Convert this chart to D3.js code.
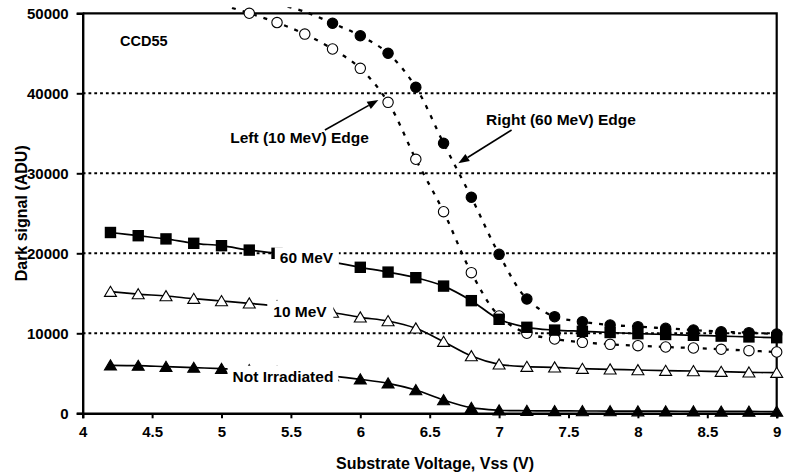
<!DOCTYPE html>
<html>
<head>
<meta charset="utf-8">
<script src="https://cdn.jsdelivr.net/npm/d3@7"></script>
<style>
  body { margin: 0; background: #fff; }
  svg { display: block; }
  text { font-family: "Liberation Sans", Arial, Helvetica, sans-serif; font-weight: bold; fill: #000; }
</style>
</head>
<body>
<svg id="chart" width="786" height="473"></svg>
<script>
// Substrate voltage settings (V)
const voltages = [4.2, 4.4, 4.6, 4.8, 5.0, 5.2, 5.4, 5.6, 5.8, 6.0, 6.2, 6.4, 6.6,
                  6.8, 7.0, 7.2, 7.4, 7.6, 7.8, 8.0, 8.2, 8.4, 8.6, 8.8, 9.0];

// Dark signal (ADU) for each region of the device
const notIrradiated = [6000, 5960, 5830, 5710, 5580, 5400, 5200, 4950, 4650, 4250, 3750, 2910, 1660,
                       700, 380, 320, 300, 290, 280, 270, 260, 250, 240, 230, 220];
const tenMeV = [15200, 14900, 14660, 14330, 14040, 13750, 13400, 13100, 12600, 12000, 11540, 10625, 8950,
                7160, 6120, 5830, 5750, 5580, 5500, 5410, 5330, 5290, 5200, 5120, 5080];
const sixtyMeV = [22600, 22200, 21800, 21250, 20950, 20400, 20000, 19500, 18900, 18250, 17650, 16950, 15900,
                  14080, 11750, 10750, 10400, 10250, 10100, 9950, 9850, 9750, 9650, 9550, 9450];

// Edge pixels at the boundaries of the irradiated regions
const leftEdgeVoltages = [5.0, 5.2, 5.4, 5.6, 5.8, 6.0, 6.2, 6.4, 6.6, 6.8, 7.0, 7.2, 7.4,
                          7.6, 7.8, 8.0, 8.2, 8.4, 8.6, 8.8, 9.0];
const leftEdge = [51100, 50000, 48840, 47400, 45540, 43120, 38870, 31750, 25200, 17580, 12160, 10000, 9290,
                  8870, 8620, 8450, 8290, 8160, 8000, 7830, 7660];
const rightEdgeVoltages = [5.4, 5.6, 5.8, 6.0, 6.2, 6.4, 6.6, 6.8, 7.0, 7.2, 7.4,
                           7.6, 7.8, 8.0, 8.2, 8.4, 8.6, 8.8, 9.0];
const rightEdge = [51200, 50200, 48750, 47200, 45000, 40750, 33750, 27000, 19870, 14290, 12080,
                   11450, 11040, 10830, 10620, 10410, 10200, 10080, 9910];

// Axis ticks
const xTicks = [4, 4.5, 5, 5.5, 6, 6.5, 7, 7.5, 8, 8.5, 9];
const xTickLabels = ["4", "4.5", "5", "5.5", "6", "6.5", "7", "7.5", "8", "8.5", "9"];
const yTicks = [0, 10000, 20000, 30000, 40000, 50000];
const yTickLabels = ["0", "10000", "20000", "30000", "40000", "50000"];

const svg = d3.select("#chart");
const W = 786, H = 473;
const margin = { left: 82.7, right: 9.3, top: 13.3, bottom: 59.7 };
const x0 = margin.left, x1 = W - margin.right, y0 = H - margin.bottom, y1 = margin.top;

const x = d3.scaleLinear().domain([4, 9]).range([x0, x1]);
const y = d3.scaleLinear().domain([0, 50000]).range([y0, y1]);

// Plot area clip (curves may run slightly above the top frame)
svg.append("defs").append("clipPath").attr("id", "plotClip")
  .append("rect").attr("x", x0).attr("y", y1 - 6).attr("width", x1 - x0).attr("height", y0 - y1 + 6);

// Horizontal dotted gridlines
svg.append("g").selectAll("line")
  .data(yTicks.filter(v => v > 0 && v < 50000))
  .join("line")
  .attr("x1", x0).attr("x2", x1)
  .attr("y1", d => y(d)).attr("y2", d => y(d))
  .attr("stroke", "#000").attr("stroke-width", 2).attr("stroke-dasharray", "2.8,3");

// Frame: top and right
svg.append("path")
  .attr("d", `M${x0},${y1}H${x1}V${y0}`)
  .attr("fill", "none").attr("stroke", "#000").attr("stroke-width", 2.2);

// Axes
const xAxis = d3.axisBottom(x).tickValues(xTicks).tickSize(5).tickPadding(5)
  .tickFormat((d, i) => xTickLabels[i]);
const yAxis = d3.axisLeft(y).tickValues(yTicks).tickSize(6).tickPadding(8)
  .tickFormat((d, i) => yTickLabels[i]);

const gx = svg.append("g").attr("transform", `translate(0,${y0})`).call(xAxis);
const gy = svg.append("g").attr("transform", `translate(${x0},0)`).call(yAxis);
[gx, gy].forEach(g => {
  g.select(".domain").attr("stroke", "#000").attr("stroke-width", 2.4);
  g.selectAll(".tick line").attr("stroke", "#000").attr("stroke-width", 2);
  g.selectAll(".tick text").style("font-family", '"Liberation Sans", Arial, sans-serif')
    .style("font-weight", "bold").style("font-size", "15px").attr("fill", "#000");
});
gx.selectAll(".tick text").attr("dy", "0.9em");

// Axis titles
svg.append("text").attr("x", 435).attr("y", 469).attr("text-anchor", "middle")
  .style("font-size", "16px").text("Substrate Voltage, Vss (V)");
svg.append("text").attr("transform", `translate(27,${(y0 + y1) / 2}) rotate(-90)`)
  .attr("text-anchor", "middle").style("font-size", "16px").text("Dark signal (ADU)");

// Series lines
const smooth = d3.line().curve(d3.curveCatmullRom.alpha(0.5));
const plot = svg.append("g").attr("clip-path", "url(#plotClip)");

function series(xs, ys) { return xs.map((v, i) => [v, ys[i]]); }

const solidSeries = [notIrradiated, tenMeV, sixtyMeV].map(s => series(voltages, s));
solidSeries.forEach(pts => {
  plot.append("path")
    .attr("d", smooth(pts.map(p => [x(p[0]), y(p[1])])))
    .attr("fill", "none").attr("stroke", "#000").attr("stroke-width", 1.7);
});

const edgeSeries = [series(leftEdgeVoltages, leftEdge), series(rightEdgeVoltages, rightEdge)];
edgeSeries.forEach(pts => {
  plot.append("path")
    .attr("d", smooth(pts.map(p => [x(p[0]), y(p[1])])))
    .attr("fill", "none").attr("stroke", "#000").attr("stroke-width", 2.3)
    .attr("stroke-dasharray", "4,7");
});

// Markers (only those inside the value range are shown)
const inRange = p => p[1] <= 50000;
const markers = svg.append("g");

function drawCircles(pts, fill) {
  markers.append("g").selectAll("circle").data(pts.filter(inRange)).join("circle")
    .attr("cx", d => x(d[0])).attr("cy", d => y(d[1])).attr("r", 5.2)
    .attr("fill", fill).attr("stroke", "#000").attr("stroke-width", 1.1);
}
function drawSquares(pts) {
  markers.append("g").selectAll("rect").data(pts.filter(inRange)).join("rect")
    .attr("x", d => x(d[0]) - 5.7).attr("y", d => y(d[1]) - 5.7)
    .attr("width", 11.4).attr("height", 11.4).attr("fill", "#000");
}
function drawTriangles(pts, fill) {
  markers.append("g").selectAll("path").data(pts.filter(inRange)).join("path")
    .attr("transform", d => `translate(${x(d[0])},${y(d[1])})`)
    .attr("d", "M0,-5.4L6,4.7L-6,4.7Z")
    .attr("fill", fill).attr("stroke", "#000").attr("stroke-width", 1.1);
}

drawCircles(edgeSeries[0], "#fff");
drawCircles(edgeSeries[1], "#000");
drawSquares(solidSeries[2]);
drawTriangles(solidSeries[1], "#fff");
drawTriangles(solidSeries[0], "#000");

// Series labels on white boxes
const labels = svg.append("g");
function boxedLabel(text, vx, vy, padX) {
  const g = labels.append("g");
  const t = g.append("text").attr("x", x(vx)).attr("y", y(vy)).style("font-size", "15.5px").text(text);
  const b = t.node().getBBox();
  g.insert("rect", "text")
    .attr("x", b.x - padX).attr("y", b.y - 2)
    .attr("width", b.width + 2 * padX).attr("height", b.height + 4)
    .attr("fill", "#fff");
}
boxedLabel("60 MeV", 5.42, 18750, 5);
boxedLabel("10 MeV", 5.373, 12075, 6);
boxedLabel("Not Irradiated", 5.08, 3950, 5);

// Annotations
svg.append("text").attr("x", x(4.269)).attr("y", y(45910)).style("font-size", "14.5px").text("CCD55");
svg.append("text").attr("x", x(5.063)).attr("y", y(33750)).style("font-size", "15.5px").text("Left (10 MeV) Edge");
svg.append("text").attr("x", x(6.906)).attr("y", y(36040)).style("font-size", "15.5px").text("Right (60 MeV) Edge");

function arrow(fromV, toV) {
  const ax = x(fromV[0]), ay = y(fromV[1]), bx = x(toV[0]), by = y(toV[1]);
  const ang = Math.atan2(by - ay, bx - ax);
  const L = 11, Wd = 4.2;
  const baseX = bx - L * Math.cos(ang), baseY = by - L * Math.sin(ang);
  svg.append("line").attr("x1", ax).attr("y1", ay).attr("x2", baseX).attr("y2", baseY)
    .attr("stroke", "#000").attr("stroke-width", 1.6);
  const px = -Math.sin(ang) * Wd, py = Math.cos(ang) * Wd;
  svg.append("path")
    .attr("d", `M${bx},${by}L${baseX + px},${baseY + py}L${baseX - px},${baseY - py}Z`)
    .attr("fill", "#000");
}
arrow([5.745, 35410], [6.13, 39160]);
arrow([7.09, 35410], [6.706, 31250]);
</script>
</body>
</html>
